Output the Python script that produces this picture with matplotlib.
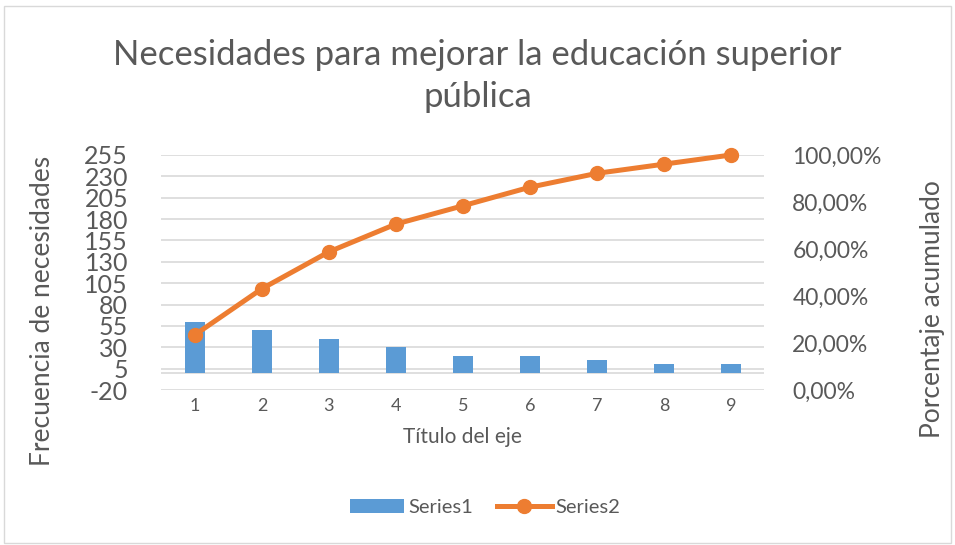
import matplotlib.pyplot as plt
from matplotlib.patches import Rectangle
from matplotlib.ticker import FuncFormatter

# datos
categorias = [1, 2, 3, 4, 5, 6, 7, 8, 9]
frecuencia = [60, 50, 40, 30, 20, 20, 15, 10, 10]
acumulado = [0.235, 0.431, 0.588, 0.706, 0.784, 0.863, 0.922, 0.961, 1.0]
ticks_izq = [-20, 5, 30, 55, 80, 105, 130, 155, 180, 205, 230, 255]
ticks_der = [0, 0.2, 0.4, 0.6, 0.8, 1.0]

gris = '#595959'
plt.rcParams['font.family'] = ['Lato', 'DejaVu Sans']
plt.rcParams['axes.unicode_minus'] = False

fig = plt.figure(figsize=(9.55, 5.45), dpi=100)
ax = fig.add_axes([0.169, 0.2844, 0.6315, 0.4312])
ax2 = ax.twinx()

# borde del grafico
fig.patches.append(Rectangle((0.004, 0.004), 0.992, 0.985, transform=fig.transFigure,
                             fill=False, edgecolor='#D9D9D9', linewidth=1))

# barras
ax.bar(categorias, frecuencia, width=0.3, color='#5B9BD5', label='Series1', zorder=3)
ax.set_xlim(0.5, 9.5)
ax.set_ylim(-20, 255)
ax.set_yticks(ticks_izq)
ax.set_xticks(categorias)
for t in ticks_izq:
    ax.axhline(t, color='#D9D9D9', linewidth=1.2, zorder=1)
ax.axhline(0, color='#D9D9D9', linewidth=1.2, zorder=1)
ax.tick_params(axis='y', length=0, labelsize=18, labelcolor=gris, pad=24)
ax.tick_params(axis='x', length=0, labelsize=13, labelcolor=gris, pad=6)
ax.set_xlabel('Título del eje', fontsize=15, color=gris, va='center')
ax.xaxis.set_label_coords(0.5, (390 - 437) / 235)
ax.set_ylabel('Frecuencia de necesidades', fontsize=19, color=gris, va='center')
ax.yaxis.set_label_coords((43 - 161.5) / 603.5, (390 - 311) / 235)

# linea acumulada
ax2.plot(categorias, acumulado, color='#ED7D31', linewidth=3.6, marker='o',
         markersize=10, label='Series2', zorder=4, clip_on=False)
ax2.set_ylim(0, 1)
ax2.set_yticks(ticks_der)
ax2.yaxis.set_major_formatter(FuncFormatter(lambda v, p: f'{v*100:.2f}%'.replace('.', ',')))
ax2.tick_params(axis='y', length=0, labelsize=16.5, labelcolor=gris, pad=20)
ax2.set_ylabel('Porcentaje acumulado', fontsize=19, color=gris, va='center')
ax2.yaxis.set_label_coords((933 - 161.5) / 603.5, (390 - 309) / 235)

for a in (ax, ax2):
    for s in a.spines.values():
        s.set_visible(False)

fig.text(0.5, 1 - 76 / 545, 'Necesidades para mejorar la educación superior\npública',
         fontsize=25, color=gris, ha='center', va='center', linespacing=1.35)

h1, l1 = ax.get_legend_handles_labels()
h2, l2 = ax2.get_legend_handles_labels()
fig.legend(h1 + h2, l1 + l2, loc='center', bbox_to_anchor=(0.508, 0.068), ncol=2,
           frameon=False, fontsize=14.5, labelcolor=gris, handlelength=2.7,
           handletextpad=0.2, columnspacing=1.2)

fig.savefig('out.png', dpi=100)
